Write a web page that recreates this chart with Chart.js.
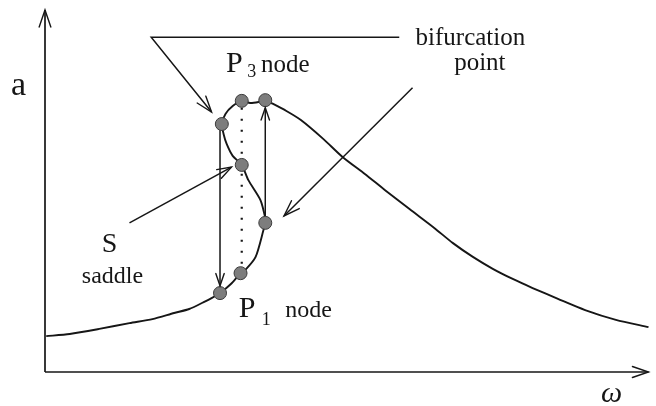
<!DOCTYPE html>
<html>
<head>
<meta charset="utf-8">
<script src="https://cdn.jsdelivr.net/npm/chart.js@4.4.1/dist/chart.umd.min.js"></script>
<style>
  html, body { margin: 0; padding: 0; background: #fff; }
  #wrap { width: 656px; height: 406px; }
</style>
</head>
<body>
<div id="wrap"><canvas id="chart" width="656" height="406"></canvas></div>
<script>
// Resonance curve (amplitude a vs frequency omega)
const curveOmega = [0.02, 0.41, 0.90, 1.40, 1.78, 2.14, 2.39, 2.63, 2.76, 2.90,
  3.08, 3.24, 3.32, 3.49, 3.62, 3.65, 3.65, 3.57, 3.37, 3.26,
  3.11, 3.01, 2.96, 2.93, 2.99, 3.11, 3.26, 3.40, 3.54, 3.65,
  3.75, 4.00, 4.24, 4.61, 4.93, 5.30, 5.63, 6.04, 6.45, 6.76,
  7.09, 7.42, 7.75, 8.08, 8.50, 8.95, 9.46, 10.0];
const curveAmp = [0.99, 1.05, 1.19, 1.35, 1.46, 1.63, 1.74, 1.93, 2.04, 2.18,
  2.43, 2.73, 2.82, 3.18, 3.92, 4.12, 4.25, 4.75, 5.30, 5.72,
  5.97, 6.30, 6.57, 6.85, 7.13, 7.35, 7.49, 7.43, 7.46, 7.51,
  7.43, 7.21, 6.96, 6.44, 5.94, 5.47, 5.03, 4.50, 3.98, 3.56,
  3.18, 2.85, 2.57, 2.32, 2.02, 1.71, 1.44, 1.24];

// marked states on the curve
const nodeOmega = [2.93, 3.26, 3.65, 3.26, 3.65, 3.24, 2.90];
const nodeAmp = [6.85, 7.49, 7.51, 5.72, 4.12, 2.73, 2.18];

// jumps and the unstable (dotted) link
const jumpDownOmega = [2.90, 2.90];
const jumpDownAmp = [6.72, 2.38];
const jumpUpOmega = [3.65, 3.65];
const jumpUpAmp = [4.30, 7.30];
const dottedOmega = [3.26, 3.26];
const dottedAmp = [7.30, 2.93];

// annotation pointers
const bifTopOmega = [5.87, 1.76, 2.76];
const bifTopAmp = [9.25, 9.25, 7.18];
const bifLowOmega = [6.09, 3.96];
const bifLowAmp = [7.85, 4.31];
const saddleOmega = [1.40, 3.09];
const saddleAmp = [4.12, 5.66];

// axes
const xAxisOmega = [0, 10];
const xAxisAmp = [0, 0];
const yAxisOmega = [0, 0];
const yAxisAmp = [0, 10];

const zip = (xs, ys) => xs.map((x, i) => ({ x: x, y: ys[i] }));

const ink = '#161616';

function lineSet(xs, ys, extra) {
  return Object.assign({
    data: zip(xs, ys),
    showLine: true,
    borderColor: ink,
    borderWidth: 1.5,
    pointRadius: 0,
    tension: 0,
    clip: false,
    order: 2
  }, extra || {});
}

// draws open V arrowheads at the end of datasets flagged with arrowEnd
const arrowPlugin = {
  id: 'arrows',
  afterDatasetsDraw(chart) {
    const ctx = chart.ctx;
    chart.data.datasets.forEach((ds, i) => {
      if (!ds.arrowEnd) return;
      const pts = chart.getDatasetMeta(i).data;
      const a = pts[pts.length - 2], b = pts[pts.length - 1];
      const ang = Math.atan2(b.y - a.y, b.x - a.x);
      const len = ds.arrowLen || 14, spread = 0.33;
      ctx.save();
      ctx.strokeStyle = ink;
      ctx.lineWidth = 1.4;
      ctx.lineCap = 'round';
      ctx.beginPath();
      ctx.moveTo(b.x - len * Math.cos(ang - spread), b.y - len * Math.sin(ang - spread));
      ctx.lineTo(b.x, b.y);
      ctx.lineTo(b.x - len * Math.cos(ang + spread), b.y - len * Math.sin(ang + spread));
      ctx.stroke();
      ctx.restore();
    });
  }
};

// text labels placed in data coordinates
const labelPlugin = {
  id: 'labels',
  afterDraw(chart) {
    const ctx = chart.ctx;
    const sx = chart.scales.x, sy = chart.scales.y;
    const serif = "'Liberation Serif', 'DejaVu Serif', serif";
    const put = (txt, w, a, size, style) => {
      ctx.font = (style || '') + ' ' + size + 'px ' + serif;
      ctx.fillText(txt, sx.getPixelForValue(w), sy.getPixelForValue(a));
    };
    ctx.save();
    ctx.fillStyle = ink;
    ctx.textBaseline = 'alphabetic';
    ctx.textAlign = 'left';
    // axis names
    ctx.font = "34px " + serif;
    ctx.fillText('a', 11, 95);
    ctx.font = "italic 30px " + serif;
    ctx.fillText('\u03c9', 601, 402);
    // P3 node
    put('P', 3.00, 8.29, 30);
    put('3', 3.35, 8.15, 18);
    put('node', 3.58, 8.29, 25);
    // P1 node
    put('P', 3.21, 1.52, 30);
    put('1', 3.59, 1.30, 18);
    put('node', 3.98, 1.52, 24);
    // saddle
    put('S', 0.94, 3.32, 28);
    put('saddle', 0.61, 2.46, 24);
    // bifurcation point
    put('bifurcation', 6.14, 9.03, 25);
    put('point', 6.78, 8.34, 25);
    ctx.restore();
  }
};

new Chart(document.getElementById('chart'), {
  type: 'scatter',
  data: {
    datasets: [
      {
        data: zip(nodeOmega, nodeAmp),
        pointRadius: 6.5,
        pointBackgroundColor: '#7d7d7d',
        pointBorderColor: '#3c3c3c',
        pointBorderWidth: 1,
        showLine: false,
        clip: false,
        order: 0
      },
      lineSet(curveOmega, curveAmp, { borderWidth: 1.9, tension: 0.25, order: 1 }),
      lineSet(jumpDownOmega, jumpDownAmp, { arrowEnd: true, arrowLen: 13 }),
      lineSet(jumpUpOmega, jumpUpAmp, { arrowEnd: true, arrowLen: 13 }),
      lineSet(dottedOmega, dottedAmp, { borderWidth: 2.2, borderDash: [2, 9] }),
      lineSet(bifTopOmega, bifTopAmp, { arrowEnd: true, arrowLen: 17 }),
      lineSet(bifLowOmega, bifLowAmp, { arrowEnd: true, arrowLen: 17 }),
      lineSet(saddleOmega, saddleAmp, { arrowEnd: true, arrowLen: 15 }),
      lineSet(xAxisOmega, xAxisAmp, { borderWidth: 1.7, arrowEnd: true, arrowLen: 17 }),
      lineSet(yAxisOmega, yAxisAmp, { borderWidth: 1.7, arrowEnd: true, arrowLen: 18 })
    ]
  },
  options: {
    responsive: false,
    animation: false,
    layout: { padding: { left: 45, right: 3, top: 10, bottom: 34 } },
    plugins: {
      legend: { display: false },
      tooltip: { enabled: false }
    },
    scales: {
      x: { type: 'linear', min: 0, max: 10, display: false },
      y: { type: 'linear', min: 0, max: 10, display: false }
    }
  },
  plugins: [arrowPlugin, labelPlugin]
});
</script>
</body>
</html>
